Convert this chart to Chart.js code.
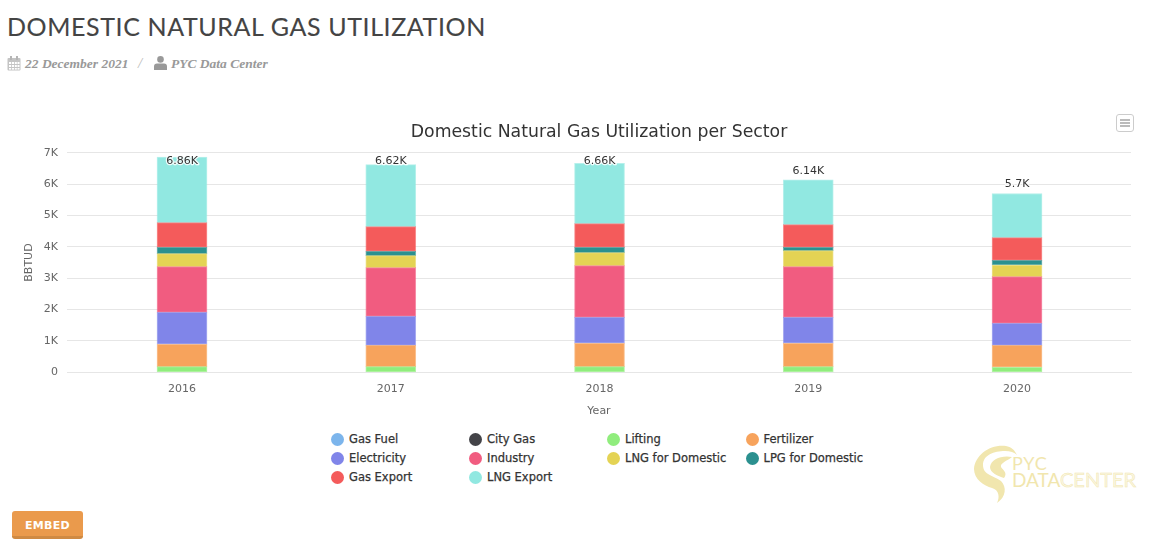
<!DOCTYPE html>
<html><head><meta charset="utf-8">
<script src="https://cdn.jsdelivr.net/npm/chart.js@4"></script>
<style>
html,body{margin:0;padding:0;background:#fff;width:1162px;height:542px;overflow:hidden}
body{position:relative;font-family:"DejaVu Sans",sans-serif}
h1{position:absolute;left:7px;top:10px;margin:0;font:400 25px/32px Lato,"Open Sans",sans-serif;letter-spacing:.6px;color:#444;white-space:nowrap;-webkit-text-stroke:.1px #444}
.meta{position:absolute;top:55px;font:italic 700 13.5px/18px "Liberation Serif",serif;color:#999;white-space:nowrap}
.sep{position:absolute;left:138px;top:54px;font:italic 15px/18px "Liberation Serif",serif;color:#bbb}
svg.ic{position:absolute}
#wrap{position:absolute;left:0;top:110px;width:1162px;height:308px}
#menu{position:absolute;left:1116px;top:114px;width:16px;height:16px;border:1px solid #ccc;border-radius:3px;background:#fff;box-sizing:content-box}
#menu i{position:absolute;left:3px;width:10px;height:2px;background:#bbb}
#legend div{position:absolute;font:400 11.5px/15px "DejaVu Sans",sans-serif;color:#333;white-space:nowrap;padding-left:18px;-webkit-text-stroke:.25px #333}
#legend b{position:absolute;left:0;top:1px;width:13px;height:13px;border-radius:50%}
#embed{position:absolute;left:12px;top:511px;width:71px;height:28px;box-sizing:border-box;background:#ea9a4c;border-bottom:3px solid #cf8a43;border-radius:3px;color:#fff;font:700 11px/29px "DejaVu Sans",sans-serif;text-align:center;letter-spacing:.3px}
</style></head><body>
<h1>DOMESTIC NATURAL GAS UTILIZATION</h1>
<svg class="ic" style="left:7px;top:56px" width="14" height="15" viewBox="0 0 14 15"><rect x=".5" y="2" width="13" height="12.5" rx="1" fill="#c4c4c4"/><g fill="#fff"><rect x="2" y="6" width="2.2" height="2"/><rect x="5" y="6" width="2" height="2"/><rect x="7.8" y="6" width="2" height="2"/><rect x="10.5" y="6" width="2" height="2"/><rect x="2" y="9" width="2.2" height="2"/><rect x="5" y="9" width="2" height="2"/><rect x="7.8" y="9" width="2" height="2"/><rect x="10.5" y="9" width="2" height="2"/><rect x="2" y="12" width="2.2" height="1.6"/><rect x="5" y="12" width="2" height="1.6"/><rect x="7.8" y="12" width="2" height="1.6"/><rect x="10.5" y="12" width="2" height="1.6"/></g><rect x="3" y="0" width="2" height="4" fill="#b5b5b5"/><rect x="9" y="0" width="2" height="4" fill="#b5b5b5"/></svg>
<div class="meta" style="left:25px">22 December 2021</div>
<div class="sep">/</div>
<svg class="ic" style="left:154px;top:56px" width="13" height="14" viewBox="0 0 13 14"><circle cx="6.5" cy="3.4" r="3.3" fill="#999"/><path d="M0 14V10.5Q0 7.5 3 7.5H10Q13 7.5 13 10.5V14Z" fill="#999"/></svg>
<div class="meta" style="left:171px">PYC Data Center</div>
<div id="wrap"><canvas id="c" width="1162" height="308"></canvas></div>
<div id="menu"><i style="top:4px"></i><i style="top:7px"></i><i style="top:10px"></i></div>
<div id="legend"></div>
<svg class="ic" style="left:970px;top:443px" width="175" height="62" viewBox="0 0 175 62">
<path d="M36 3C20 1 5 12 4 26C4 36 14 43 22 45C29 47 30 54 27 60C36 54 37 44 31 38C23 32 13 32 13 22C13 12 24 8 35 8Q43 8 47 12C44 6 41 4 36 3Z" fill="#f1e6ae"/>
<path d="M42 14C32 12 21 16 20 24C20 30 28 33 34 35C38 30 33 27 31 24C30 20 37 18 42 14Z" fill="#f1e6ae"/>
<text x="42" y="27" font-family="Lato,sans-serif" font-size="18" fill="#f1e6ae" letter-spacing=".8">PYC</text>
<text x="42" y="44" font-family="Lato,sans-serif" font-size="19" fill="#f1e6ae">DATA</text>
<text x="90" y="44" font-family="Lato,sans-serif" font-size="20" fill="#fbf7e3" stroke="#f1e6ae" stroke-width=".5">CENTER</text>
</svg>
<div id="embed">EMBED</div>
<script>
const years = ["2016","2017","2018","2019","2020"];
const gasFuel     = [0,0,0,0,0];
const cityGas     = [0,0,0,0,0];
const lifting     = [181,181,181,181,160];
const fertilizer  = [712,680,744,744,701];
const electricity = [1020,924,828,828,701];
const industry    = [1456,1552,1648,1616,1488];
const lngDomestic = [414,382,414,510,372];
const lpgDomestic = [202,139,170,106,149];
const gasExport   = [786,786,755,723,722];
const lngExport   = [2089,1976,1920,1432,1407];
const totals = ["6.86K","6.62K","6.66K","6.14K","5.7K"];
const seriesNames = ["Gas Fuel","City Gas","Lifting","Fertilizer","Electricity","Industry","LNG for Domestic","LPG for Domestic","Gas Export","LNG Export"];
const seriesValues = [gasFuel,cityGas,lifting,fertilizer,electricity,industry,lngDomestic,lpgDomestic,gasExport,lngExport];
const seriesColors = ["#7cb5ec","#434348","#90ed7d","#f7a35c","#8085e9","#f15c80","#e4d354","#2b908f","#f45b5b","#91e8e1"];

const datasets = seriesNames.map((n,i)=>({
  label:n,
  data:seriesValues[i].map((v,k)=>({x:k,y:v})),
  backgroundColor:seriesColors[i],
  borderColor:seriesColors[i]+"aa",
  borderWidth:1,
  borderSkipped:false,
  barThickness:50
}));

const stackLabels = {
  id:"stackLabels",
  afterDatasetsDraw(chart){
    const {ctx,scales:{x,y}} = chart;
    ctx.save();
    ctx.font = '11px "DejaVu Sans",sans-serif';
    ctx.textAlign = "center"; ctx.textBaseline = "middle";
    ctx.lineJoin = "round";
    years.forEach((_,k)=>{
      const sum = seriesValues.reduce((a,s)=>a+s[k],0);
      const py = Math.max(y.getPixelForValue(sum)-9, y.top+8);
      const px = x.getPixelForValue(k);
      ctx.lineWidth = 2.5; ctx.strokeStyle = "rgba(255,255,255,.85)";
      ctx.strokeText(totals[k],px,py);
      ctx.fillStyle = "#333";
      ctx.fillText(totals[k],px,py);
    });
    ctx.restore();
  }
};

new Chart(document.getElementById("c"),{
  type:"bar",
  data:{datasets},
  plugins:[stackLabels],
  options:{
    responsive:false,animation:false,
    layout:{padding:{left:23,right:31,top:0,bottom:0}},
    plugins:{
      legend:{display:false},
      tooltip:{enabled:false},
      title:{display:true,fullSize:false,text:"Domestic Natural Gas Utilization per Sector",color:"#333",
        font:{family:'"DejaVu Sans",sans-serif',size:17.3,weight:"normal"},
        padding:{top:12,bottom:10}}
    },
    scales:{
      x:{type:"linear",stacked:true,min:-0.551,max:4.546,offset:false,
        afterFit(s){s.height=45.7},
        afterBuildTicks(s){s.ticks=years.map((_,i)=>({value:i}))},
        grid:{display:false},
        border:{color:"#e6e6e6"},
        ticks:{autoSkip:false,maxRotation:0,padding:2,color:"#666",font:{family:'"DejaVu Sans",sans-serif',size:11},callback:v=>years[v]},
        title:{display:true,text:"Year",color:"#666",font:{family:'"DejaVu Sans",sans-serif',size:11},padding:{top:7,bottom:0}}
      },
      y:{stacked:true,min:0,max:7000,
        afterFit(s){s.width=44},
        grid:{color:"#e6e6e6",drawTicks:false},
        border:{display:false},
        ticks:{stepSize:1000,padding:9,color:"#666",font:{family:'"DejaVu Sans",sans-serif',size:11},callback:v=>v===0?"0":(v/1000)+"K"},
        title:{display:true,text:"BBTUD",color:"#666",font:{family:'"DejaVu Sans",sans-serif',size:11},padding:{top:0,bottom:0}}
      }
    }
  }
});

const colX = [331,469,607,745.5], rowY = [432,451,470];
const lg = document.getElementById("legend");
seriesNames.forEach((n,i)=>{
  const d = document.createElement("div");
  d.style.left = colX[i%4]+"px";
  d.style.top = rowY[Math.floor(i/4)]+"px";
  d.textContent = n;
  const b = document.createElement("b");
  b.style.background = seriesColors[i];
  d.appendChild(b);
  lg.appendChild(d);
});
</script>
</body></html>
